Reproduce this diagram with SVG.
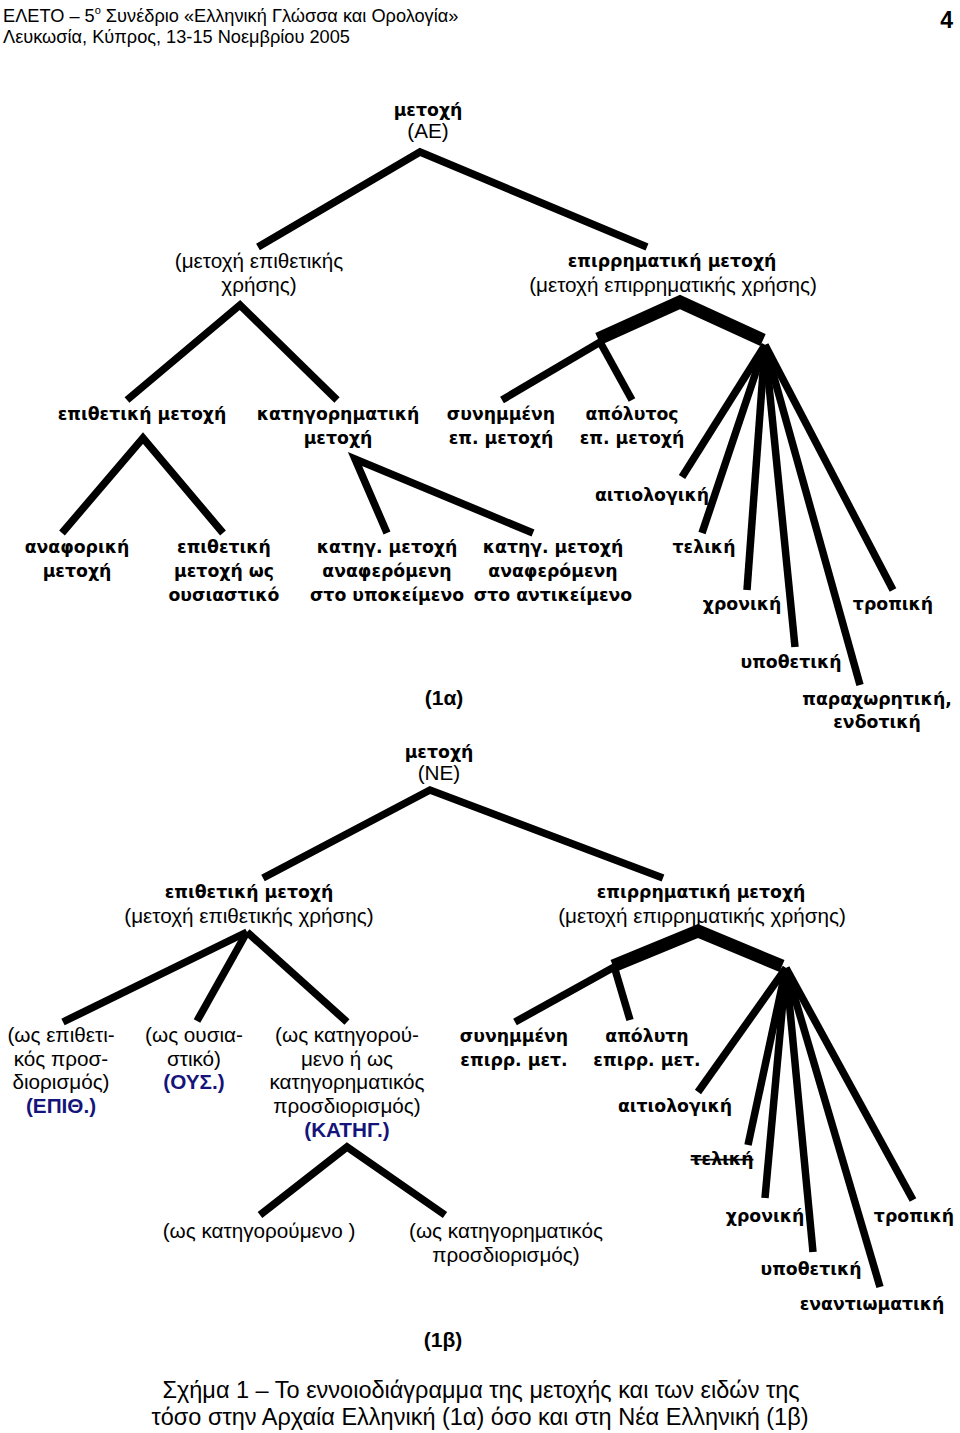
<svg xmlns="http://www.w3.org/2000/svg" width="960" height="1433" viewBox="0 0 960 1433">
<style>
.r{font-family:"Liberation Sans",Arial,sans-serif;font-size:20.7px;fill:#000;text-anchor:middle}
.b{font-family:"DejaVu Sans",Verdana,sans-serif;font-weight:bold;font-size:17.3px;fill:#000;text-anchor:middle}
.ab{font-family:"Liberation Sans",Arial,sans-serif;font-weight:bold;font-size:21px;fill:#000;text-anchor:middle}
.nv{font-family:"Liberation Sans",Arial,sans-serif;font-weight:bold;font-size:20.7px;fill:#14147a;text-anchor:middle}
.hd{font-family:"Liberation Sans",Arial,sans-serif;font-size:18.2px;fill:#000}
.cap{font-family:"Liberation Sans",Arial,sans-serif;font-size:23.5px;fill:#000;text-anchor:middle}
.ln{stroke:#000;stroke-width:7.5;fill:none;stroke-linecap:butt}
.tk{stroke:#000;stroke-width:13;fill:none;stroke-linecap:butt}
</style>
<rect width="960" height="1433" fill="#fff"/>
<g id="header">
<text class="hd" x="3" y="22">ΕΛΕΤΟ – 5<tspan font-size="11" dy="-8">ο</tspan><tspan dy="8"> Συνέδριο «Ελληνική Γλώσσα και Ορολογία»</tspan></text>
<text class="hd" x="3" y="43">Λευκωσία, Κύπρος, 13-15 Νοεμβρίου 2005</text>
<text x="953" y="28" style="font-family:'Liberation Sans',Arial,sans-serif;font-weight:bold;font-size:23px;text-anchor:end">4</text>
</g>
<g id="connectors">
<polyline class="ln" points="258,247 420,152 647,247"/>
<polyline class="ln" points="127,400 240,305 337,400"/>
<polyline class="ln" points="62,533 143,438 223,533"/>
<polyline class="ln" points="387,533 355,459 533,533"/>
<polyline class="tk" points="598,339 680,302 763,340"/>
<line class="ln" x1="602" y1="341" x2="502" y2="400"/>
<line class="ln" x1="600" y1="342" x2="632" y2="400"/>
<line class="ln" x1="765" y1="345" x2="682" y2="477"/>
<line class="ln" x1="765" y1="345" x2="702" y2="533"/>
<line class="ln" x1="765" y1="345" x2="747" y2="590"/>
<line class="ln" x1="765" y1="345" x2="795" y2="647"/>
<line class="ln" x1="765" y1="345" x2="860" y2="685"/>
<line class="ln" x1="765" y1="345" x2="893" y2="590"/>
<polyline class="ln" points="263,878 430,790 663,878"/>
<line class="ln" x1="247" y1="932" x2="63" y2="1022"/>
<line class="ln" x1="247" y1="932" x2="197" y2="1021"/>
<line class="ln" x1="247" y1="932" x2="347" y2="1022"/>
<polyline class="ln" points="260,1215 347,1147 445,1215"/>
<polyline class="tk" points="613,966 698,931 782,966"/>
<line class="ln" x1="616" y1="966" x2="515" y2="1022"/>
<line class="ln" x1="614" y1="966" x2="630" y2="1020"/>
<line class="ln" x1="786" y1="968" x2="698" y2="1092"/>
<line class="ln" x1="786" y1="968" x2="748" y2="1145"/>
<line class="ln" x1="786" y1="968" x2="765" y2="1198"/>
<line class="ln" x1="786" y1="968" x2="813" y2="1252"/>
<line class="ln" x1="786" y1="968" x2="880" y2="1287"/>
<line class="ln" x1="786" y1="968" x2="913" y2="1200"/>
</g>
<g id="ae-root"><text class="b" x="428" y="116">μετοχή</text><text class="r" x="428" y="138">(ΑΕ)</text></g>
<g id="ae-epith"><text class="r" x="259" y="268">(μετοχή επιθετικής</text><text class="r" x="259" y="292">χρήσης)</text></g>
<g id="ae-epirr"><text class="b" x="672" y="267">επιρρηματική μετοχή</text><text class="r" x="673" y="292">(μετοχή επιρρηματικής χρήσης)</text></g>
<g id="ae-epith-met"><text class="b" x="142" y="420">επιθετική μετοχή</text></g>
<g id="ae-katig"><text class="b" x="338" y="420">κατηγορηματική</text><text class="b" x="338" y="444">μετοχή</text></g>
<g id="ae-synim"><text class="b" x="501" y="420">συνημμένη</text><text class="b" x="501" y="444">επ. μετοχή</text></g>
<g id="ae-apol"><text class="b" x="632" y="420">απόλυτος</text><text class="b" x="632" y="444">επ. μετοχή</text></g>
<g id="ae-anaf"><text class="b" x="77" y="553">αναφορική</text><text class="b" x="77" y="577">μετοχή</text></g>
<g id="ae-ousiast"><text class="b" x="224" y="553">επιθετική</text><text class="b" x="224" y="577">μετοχή ως</text><text class="b" x="224" y="601">ουσιαστικό</text></g>
<g id="ae-katig-yp"><text class="b" x="387" y="553">κατηγ. μετοχή</text><text class="b" x="387" y="577">αναφερόμενη</text><text class="b" x="387" y="601">στο υποκείμενο</text></g>
<g id="ae-katig-ant"><text class="b" x="553" y="553">κατηγ. μετοχή</text><text class="b" x="553" y="577">αναφερόμενη</text><text class="b" x="553" y="601">στο αντικείμενο</text></g>
<g id="ae-aitiol"><text class="b" x="652" y="501">αιτιολογική</text></g>
<g id="ae-teliki"><text class="b" x="704" y="553">τελική</text></g>
<g id="ae-xron"><text class="b" x="742" y="610">χρονική</text></g>
<g id="ae-trop"><text class="b" x="893" y="610">τροπική</text></g>
<g id="ae-ypoth"><text class="b" x="791" y="668">υποθετική</text></g>
<g id="ae-parax"><text class="b" x="877" y="705">παραχωρητική,</text><text class="b" x="877" y="728">ενδοτική</text></g>
<g id="label-1a"><text class="ab" x="444" y="705">(1α)</text></g>
<g id="ne-root"><text class="b" x="439" y="758">μετοχή</text><text class="r" x="439" y="780">(ΝΕ)</text></g>
<g id="ne-epith"><text class="b" x="249" y="898">επιθετική μετοχή</text><text class="r" x="249" y="923">(μετοχή επιθετικής χρήσης)</text></g>
<g id="ne-epirr"><text class="b" x="701" y="898">επιρρηματική μετοχή</text><text class="r" x="702" y="923">(μετοχή επιρρηματικής χρήσης)</text></g>
<g id="ne-epith-pros"><text class="r" x="61" y="1042">(ως επιθετι-</text><text class="r" x="61" y="1066">κός προσ-</text><text class="r" x="61" y="1089">διορισμός)</text><text class="nv" x="61" y="1113">(ΕΠΙΘ.)</text></g>
<g id="ne-ous"><text class="r" x="194" y="1042">(ως ουσια-</text><text class="r" x="194" y="1066">στικό)</text><text class="nv" x="194" y="1089">(ΟΥΣ.)</text></g>
<g id="ne-katig"><text class="r" x="347" y="1042">(ως κατηγορού-</text><text class="r" x="347" y="1066">μενο ή ως</text><text class="r" x="347" y="1089">κατηγορηματικός</text><text class="r" x="347" y="1113">προσδιορισμός)</text><text class="nv" x="347" y="1137">(ΚΑΤΗΓ.)</text></g>
<g id="ne-katig-kat"><text class="r" x="259" y="1238">(ως κατηγορούμενο )</text></g>
<g id="ne-katig-pros"><text class="r" x="506" y="1238">(ως κατηγορηματικός</text><text class="r" x="506" y="1262">προσδιορισμός)</text></g>
<g id="ne-synim"><text class="b" x="514" y="1042">συνημμένη</text><text class="b" x="514" y="1066">επιρρ. μετ.</text></g>
<g id="ne-apol"><text class="b" x="647" y="1042">απόλυτη</text><text class="b" x="647" y="1066">επιρρ. μετ.</text></g>
<g id="ne-aitiol"><text class="b" x="675" y="1112">αιτιολογική</text></g>
<g id="ne-teliki"><text class="b" x="722" y="1165" style="text-decoration:line-through">τελική</text></g>
<g id="ne-xron"><text class="b" x="765" y="1222">χρονική</text></g>
<g id="ne-trop"><text class="b" x="914" y="1222">τροπική</text></g>
<g id="ne-ypoth"><text class="b" x="811" y="1275">υποθετική</text></g>
<g id="ne-enant"><text class="b" x="872" y="1310">εναντιωματική</text></g>
<g id="label-1b"><text class="ab" x="443" y="1347">(1β)</text></g>
<g id="caption"><text class="cap" x="481" y="1398">Σχήμα 1 – Το εννοιοδιάγραμμα της μετοχής και των ειδών της</text><text class="cap" x="480" y="1425">τόσο στην Αρχαία Ελληνική (1α) όσο και στη Νέα Ελληνική (1β)</text></g>
</svg>
